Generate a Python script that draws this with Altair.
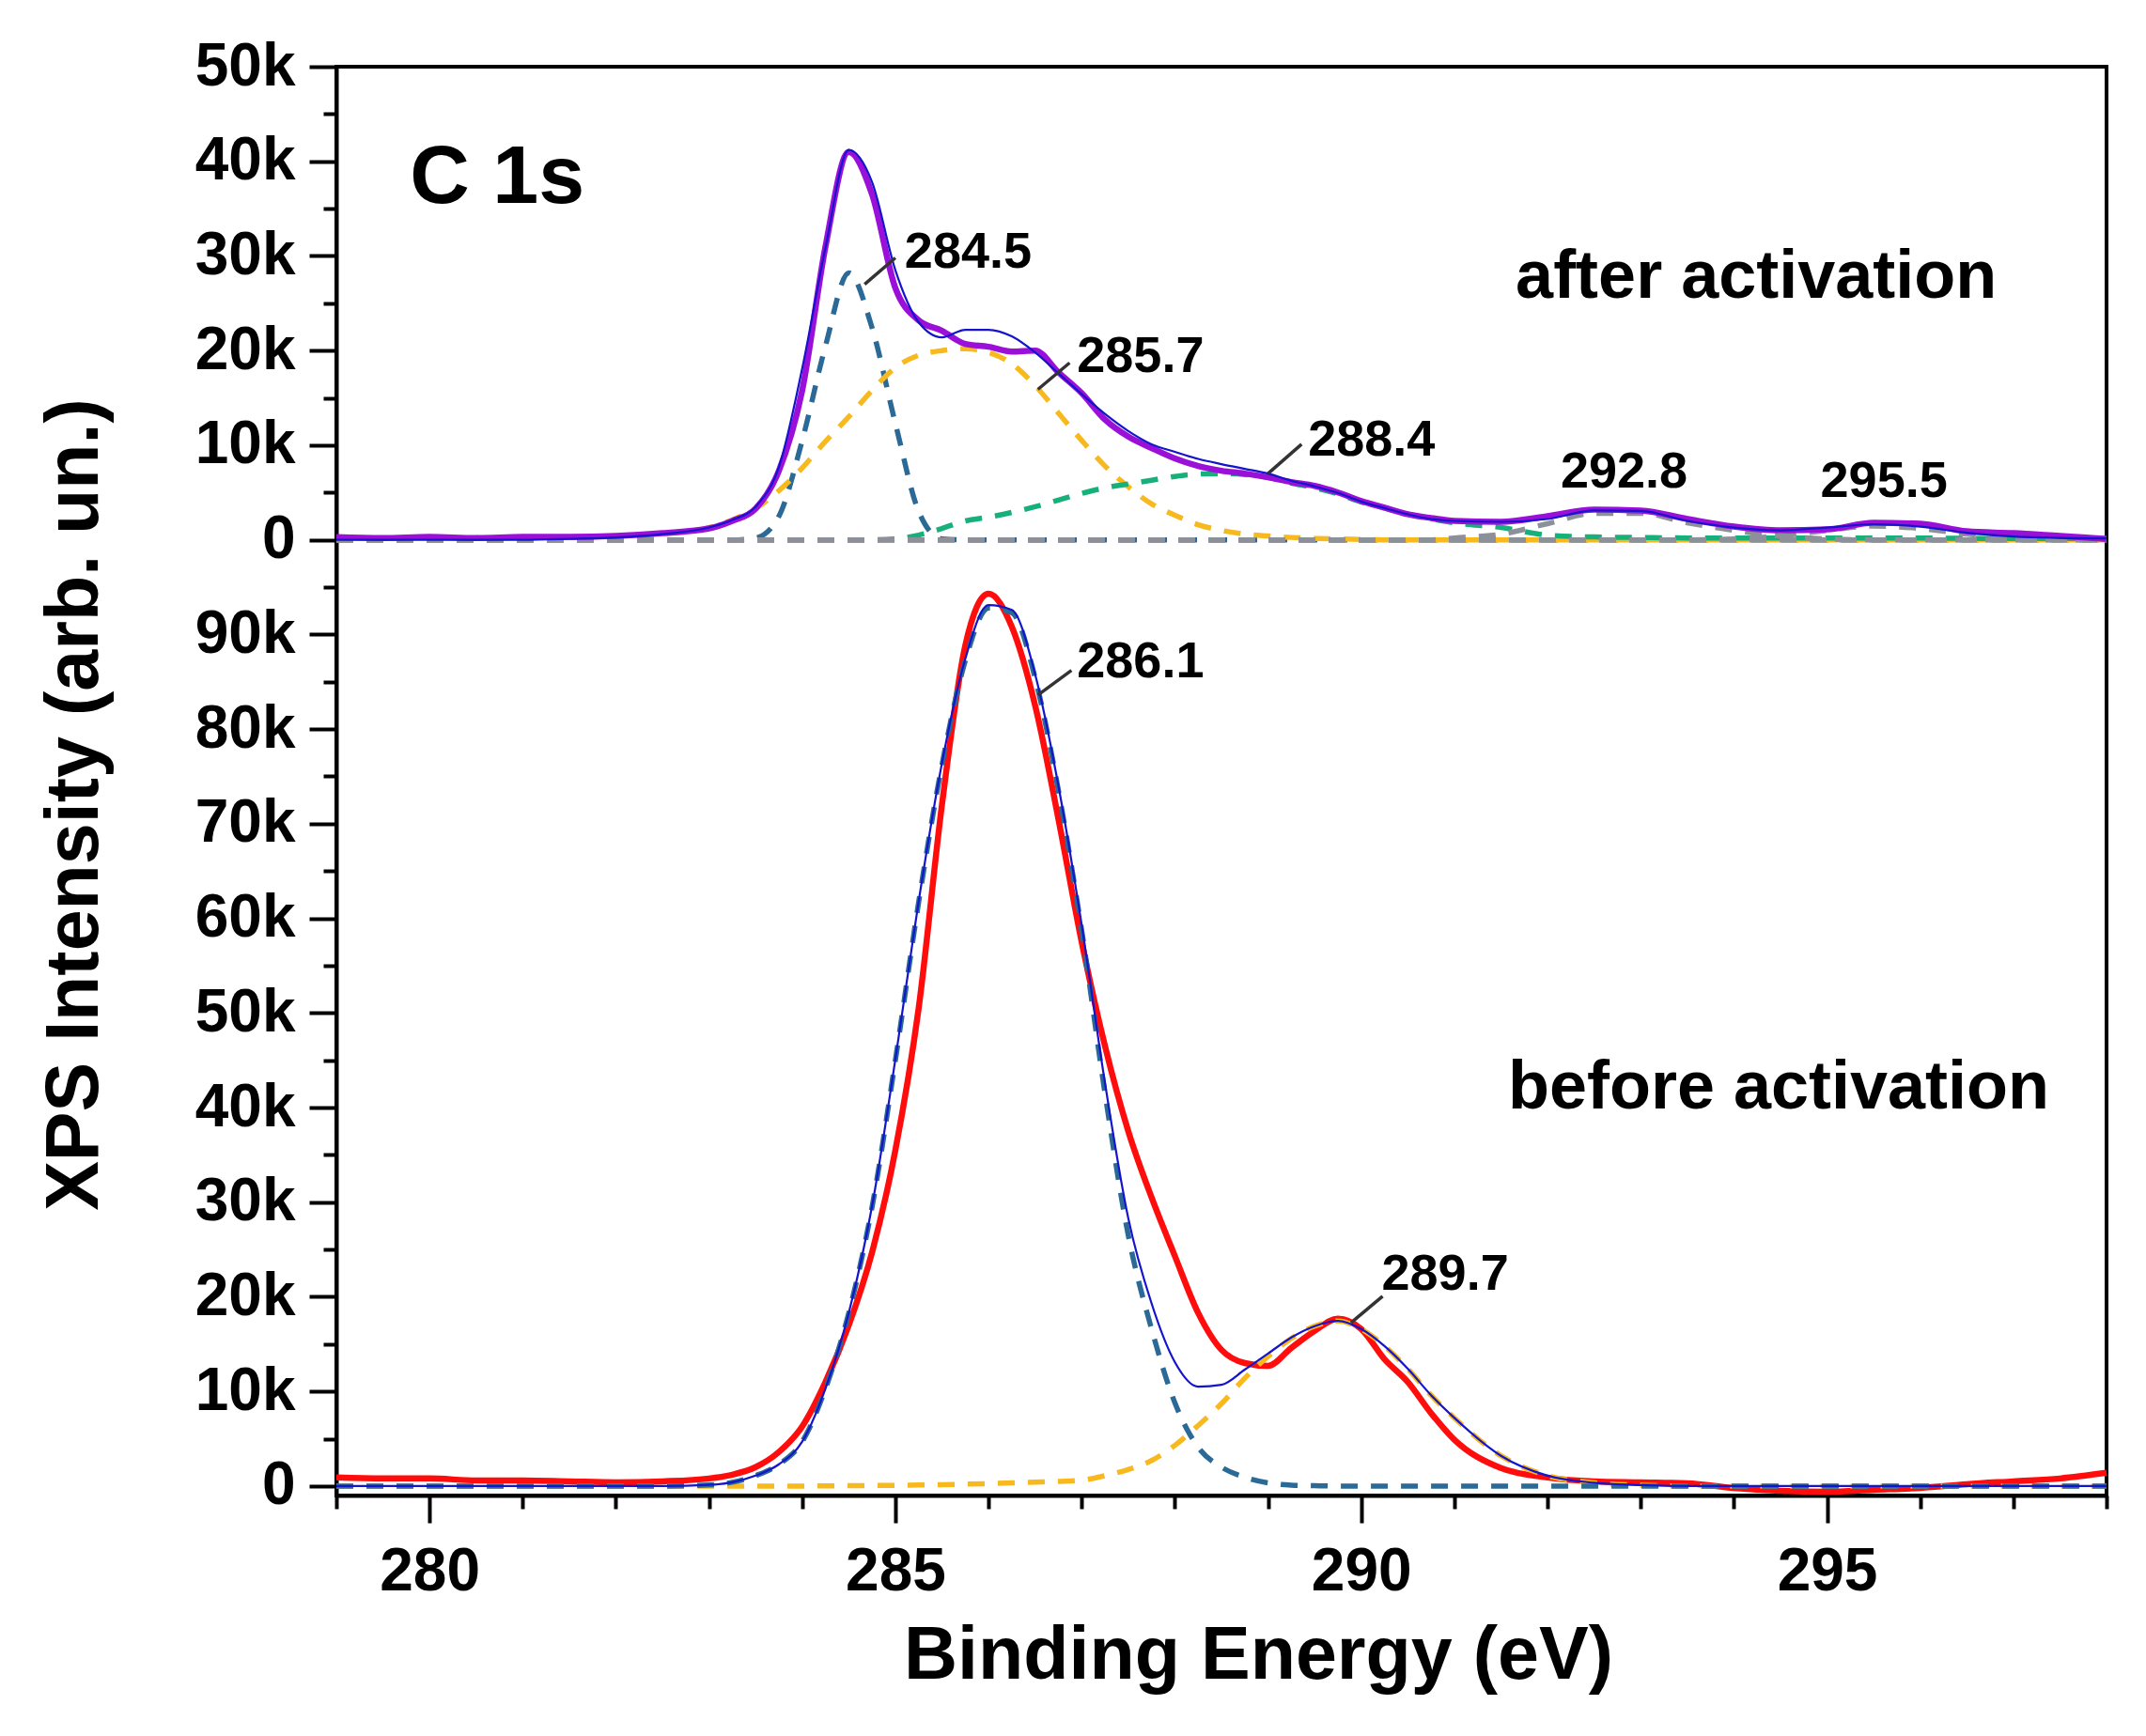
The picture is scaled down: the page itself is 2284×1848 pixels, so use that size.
import altair as alt
import pandas as pd

# ---------------- data (intensities in units of 1000 counts) ----------------
energy = [279.0, 279.5, 280.0, 280.5, 281.0, 281.5, 282.0, 282.5,
          283.0, 283.25, 283.5, 283.75, 284.0, 284.25, 284.5, 284.75,
          285.0, 285.25, 285.5, 285.75, 286.0, 286.25, 286.5, 286.75,
          287.0, 287.25, 287.5, 287.75, 288.0, 288.25, 288.5, 288.75,
          289.0, 289.25, 289.5, 289.75, 290.0, 290.25, 290.5, 290.75, 291.0,
          291.5, 292.0, 292.5, 293.0, 293.5, 294.0, 294.5, 295.0, 295.5,
          296.0, 296.5, 297.0, 297.5, 298.0]

# before activation (lower panel)
before_data = [0.9, 0.8, 0.8, 0.6, 0.6, 0.5, 0.4, 0.5,
               0.8, 1.2, 2.0, 3.6, 6.3, 11.0, 17.0, 24.7,
               35.5, 50.5, 72.0, 88.8, 94.3, 90.8, 82.5, 70.5,
               57.5, 46.5, 37.5, 30.5, 24.3, 18.3, 14.4, 13.0,
               12.7, 14.6, 16.4, 17.7, 16.6, 13.4, 11.0, 7.7, 4.9,
               1.9, 0.9, 0.5, 0.4, 0.3, -0.2, -0.5, -0.6, -0.4,
               -0.2, 0.2, 0.5, 0.8, 1.4]
before_fit = [0.0, 0.0, 0.0, 0.0, 0.0, 0.0, 0.0, 0.0,
              0.12, 0.4, 1.1, 2.3, 4.7, 10.3, 18.3, 29.6,
              45.1, 61.8, 76.4, 87.4, 93.1, 92.6, 85.8, 74.0,
              59.3, 42.6, 28.3, 19.3, 13.1, 10.5, 10.7, 12.3,
              14.0, 15.7, 16.9, 17.45, 16.6, 14.8, 12.4, 9.6, 7.2,
              3.2, 1.1, 0.35, 0.1, 0.0, 0.0, 0.0, 0.0, 0.0,
              0.0, 0.0, 0.0, 0.0, 0.0]
before_peak_286 = [0.0, 0.0, 0.0, 0.0, 0.0, 0.0, 0.0, 0.0,
                   0.12, 0.4, 1.1, 2.3, 4.7, 10.3, 18.3, 29.5,
                   45.0, 61.7, 76.2, 87.2, 92.8, 92.3, 85.4, 73.5,
                   58.7, 41.5, 26.5, 16.6, 8.8, 4.1, 2.0, 0.93,
                   0.33, 0.1, 0.04, 0.0, 0.0, 0.0, 0.0, 0.0, 0.0,
                   0.0, 0.0, 0.0, 0.0, 0.0, 0.0, 0.0, 0.0, 0.0,
                   0.0, 0.0, 0.0, 0.0, 0.0]
before_peak_289 = [0.0, 0.0, 0.0, 0.0, 0.0, 0.0, 0.0, 0.0,
                   0.0, 0.0, 0.0, 0.0, 0.0, 0.02, 0.04, 0.06,
                   0.08, 0.11, 0.15, 0.2, 0.26, 0.33, 0.42, 0.5,
                   0.62, 1.1, 1.75, 2.7, 4.3, 6.4, 8.7, 11.4,
                   13.7, 15.6, 16.9, 17.45, 16.6, 14.8, 12.4, 9.6, 7.2,
                   3.2, 1.1, 0.35, 0.1, 0.0, 0.0, 0.0, 0.0, 0.0,
                   0.0, 0.0, 0.0, 0.0, 0.0]

# after activation (upper panel)
after_data = [0.3, 0.2, 0.3, 0.2, 0.3, 0.3, 0.4, 0.7,
              1.2, 2.0, 3.3, 7.3, 15.8, 31.0, 41.0, 36.5,
              26.6, 23.2, 22.1, 20.7, 20.4, 19.9, 20.0, 17.7,
              15.5, 12.7, 10.9, 9.7, 8.6, 7.8, 7.3, 7.0,
              6.6, 6.1, 5.7, 5.0, 4.1, 3.4, 2.7, 2.3, 2.0,
              1.9, 2.5, 3.2, 3.1, 2.2, 1.4, 1.0, 1.1, 1.8,
              1.7, 0.9, 0.7, 0.4, 0.1]
after_fit = [0.0, 0.0, 0.0, 0.0, 0.0, 0.1, 0.25, 0.6,
             1.3, 2.1, 3.5, 7.7, 18.1, 30.9, 41.2, 37.8,
             28.5, 23.0, 21.4, 22.2, 22.2, 21.5, 19.8, 17.6,
             15.4, 13.3, 11.5, 10.1, 9.3, 8.55, 8.0, 7.5,
             7.0, 6.25, 5.65, 4.95, 4.05, 3.35, 2.7, 2.2, 2.0,
             1.9, 2.2, 3.1, 3.05, 2.0, 1.3, 1.0, 1.3, 1.65,
             1.4, 0.75, 0.35, 0.2, 0.15]
after_peak_284 = [0.0, 0.0, 0.0, 0.0, 0.0, 0.0, 0.0, 0.0,
                  0.0, 0.0, 0.2, 2.5, 10.5, 20.5, 28.2, 22.4,
                  12.3, 3.0, 0.1, 0.0, 0.0, 0.0, 0.0, 0.0,
                  0.0, 0.0, 0.0, 0.0, 0.0, 0.0, 0.0, 0.0,
                  0.0, 0.0, 0.0, 0.0, 0.0, 0.0, 0.0, 0.0, 0.0,
                  0.0, 0.0, 0.0, 0.0, 0.0, 0.0, 0.0, 0.0, 0.0,
                  0.0, 0.0, 0.0, 0.0, 0.0]
after_peak_285 = [0.0, 0.0, 0.0, 0.0, 0.0, 0.1, 0.25, 0.6,
                  1.3, 2.1, 3.3, 5.2, 7.6, 10.4, 13.0, 15.8,
                  18.2, 19.5, 20.0, 20.2, 19.8, 18.6, 16.3, 13.4,
                  10.5, 7.8, 5.6, 3.8, 2.6, 1.6, 1.0, 0.6,
                  0.4, 0.25, 0.15, 0.1, 0.05, 0.0, 0.0, 0.0, 0.0,
                  0.0, 0.0, 0.0, 0.0, 0.0, 0.0, 0.0, 0.0, 0.0,
                  0.0, 0.0, 0.0, 0.0, 0.0]
after_peak_288 = [0.0, 0.0, 0.0, 0.0, 0.0, 0.0, 0.0, 0.0,
                  0.0, 0.0, 0.0, 0.0, 0.0, 0.0, 0.0, 0.0,
                  0.1, 0.5, 1.2, 2.0, 2.4, 2.9, 3.5, 4.2,
                  4.9, 5.5, 5.9, 6.3, 6.7, 6.95, 7.0, 6.9,
                  6.6, 6.0, 5.5, 4.85, 4.0, 3.35, 2.7, 2.2, 1.8,
                  1.3, 0.5, 0.3, 0.25, 0.2, 0.2, 0.2, 0.2, 0.2,
                  0.2, 0.15, 0.15, 0.15, 0.15]
after_peak_292 = [0.0, 0.0, 0.0, 0.0, 0.0, 0.0, 0.0, 0.0,
                  0.0, 0.0, 0.0, 0.0, 0.0, 0.0, 0.0, 0.0,
                  0.0, 0.0, 0.0, 0.0, 0.0, 0.0, 0.0, 0.0,
                  0.0, 0.0, 0.0, 0.0, 0.0, 0.0, 0.0, 0.0,
                  0.0, 0.0, 0.0, 0.0, 0.0, 0.0, 0.0, 0.0, 0.2,
                  0.6, 1.7, 2.8, 2.8, 1.8, 1.0, 0.4, 0.1, 0.0,
                  0.0, 0.0, 0.0, 0.0, 0.0]
after_peak_295 = [0.0, 0.0, 0.0, 0.0, 0.0, 0.0, 0.0, 0.0,
                  0.0, 0.0, 0.0, 0.0, 0.0, 0.0, 0.0, 0.0,
                  0.0, 0.0, 0.0, 0.0, 0.0, 0.0, 0.0, 0.0,
                  0.0, 0.0, 0.0, 0.0, 0.0, 0.0, 0.0, 0.0,
                  0.0, 0.0, 0.0, 0.0, 0.0, 0.0, 0.0, 0.0, 0.0,
                  0.0, 0.0, 0.0, 0.0, 0.0, 0.1, 0.4, 1.0, 1.45,
                  1.2, 0.6, 0.2, 0.05, 0.0]
baseline_energy = [279.0, 298.0]
baseline_value = [0.0, 0.0]

UPPER_OFFSET = 100.0  # the "after" panel sits 100k above the "before" panel

# axis ticks
x_major = [280, 285, 290, 295]
x_minor = [279, 281, 282, 283, 284, 286, 287, 288, 289, 291, 292, 293, 294, 296, 297, 298]
y_major = list(range(0, 151, 10))
y_minor = list(range(5, 150, 10))

# annotations (positions in plot coordinates, k units, upper panel includes offset)
peak_labels = ["284.5", "285.7", "288.4", "292.8", "295.5", "286.1", "289.7"]
peak_label_x = [285.10, 286.95, 289.43, 292.14, 294.93, 286.95, 290.22]
peak_label_y = [128.8, 117.7, 108.9, 105.5, 104.5, 85.5, 20.7]
leader_x1 = [284.67, 286.53, 289.00, 286.53, 289.89]
leader_x2 = [285.00, 286.87, 289.36, 286.89, 290.23]
leader_y1 = [127.0, 115.9, 107.0, 83.6, 17.25]
leader_y2 = [129.8, 118.7, 110.1, 86.2, 20.06]
panel_labels = ["after activation", "before activation"]
panel_label_x = [294.24, 294.48]
panel_label_y = [125.6, 39.9]
title_label = ["C 1s"]
title_label_x = [279.79]
title_label_y = [135.6]

FONT = "Liberation Sans, Arial, Helvetica, sans-serif"

xs = alt.Scale(domain=[279, 298], nice=False, zero=False)
ys = alt.Scale(domain=[-1, 150], nice=False, zero=False)


def series(values, offset=0.0):
    return pd.DataFrame({"E": energy, "I": [v + offset for v in values]})


def enc_x(axis=None):
    return alt.X("E:Q", scale=xs, axis=axis)


def enc_y(axis=None):
    return alt.Y("I:Q", scale=ys, axis=axis)


def line(df, color, width, dash=None):
    kw = dict(color=color, strokeWidth=width, interpolate="monotone")
    if dash is not None:
        kw["strokeDash"] = dash
    return alt.Chart(df).mark_line(**kw).encode(x=enc_x(), y=enc_y())


RED = "#ff0d0d"
PURPLE = "#9b10d8"
FITBLUE = "#1414cc"
TEAL = "#2b6a96"
YELLOW = "#f7b91d"
GREEN = "#17b07a"
GRAY = "#8c9099"
DASH = [18, 14]
DW = 5.5

x_axis_major = alt.Axis(values=x_major, tickSize=29, labelPadding=20, orient="bottom",
                        title="Binding Energy (eV)", titleX=981, titleY=194,
                        titleAlign="center", titleBaseline="alphabetic",
                        labelFlush=False, labelOverlap=False)
y_axis_major = alt.Axis(values=y_major, tickSize=29, labelPadding=15, orient="left",
                        labelExpr="datum.value == 0 || datum.value == 100 ? '0' : "
                                  "(datum.value > 100 ? (datum.value - 100) + 'k' : datum.value + 'k')",
                        title="XPS Intensity (arb. un.)", titleX=-255, titleY=785,
                        titleAngle=270, titleAlign="center", titleBaseline="alphabetic",
                        labelFlush=False, labelOverlap=False)
x_axis_minor = alt.Axis(values=x_minor, tickSize=14, labels=False, domain=False,
                        title=None, orient="bottom")
y_axis_minor = alt.Axis(values=y_minor, tickSize=14, labels=False, domain=False,
                        title=None, orient="left")

# axis carrier layers
major_layer = alt.Chart(series(before_data)).mark_line(
    color=RED, strokeWidth=6.5, interpolate="monotone").encode(
    x=enc_x(x_axis_major), y=enc_y(y_axis_major))
base_df = pd.DataFrame({"E": baseline_energy, "I": [v + UPPER_OFFSET for v in baseline_value]})
minor_layer = alt.Chart(base_df).mark_line(color=GRAY, strokeWidth=DW, strokeDash=DASH).encode(
    x=enc_x(x_axis_minor), y=enc_y(y_axis_minor))

lower_layers = [
    line(series(before_peak_289), YELLOW, DW, DASH),
    line(series(before_peak_286), TEAL, DW, DASH),
    line(series(before_fit), FITBLUE, 2.2),
]
upper_layers = [
    line(series(after_peak_284, UPPER_OFFSET), TEAL, DW, DASH),
    line(series(after_peak_285, UPPER_OFFSET), YELLOW, DW, DASH),
    line(series(after_peak_288, UPPER_OFFSET), GREEN, DW, DASH),
    line(series(after_peak_292, UPPER_OFFSET), GRAY, DW, DASH),
    line(series(after_peak_295, UPPER_OFFSET), GRAY, DW, DASH),
]
upper_top = [
    line(series(after_data, UPPER_OFFSET), PURPLE, 6.5),
    line(series(after_fit, UPPER_OFFSET), FITBLUE, 2.2),
]

leader_df = pd.DataFrame({"E": leader_x1, "I": leader_y1, "E2": leader_x2, "I2": leader_y2})
leaders = alt.Chart(leader_df).mark_rule(color="#333333", strokeWidth=3.5).encode(
    x=enc_x(), y=enc_y(), x2="E2:Q", y2="I2:Q")

peak_df = pd.DataFrame({"E": peak_label_x, "I": peak_label_y, "t": peak_labels})
peak_text = alt.Chart(peak_df).mark_text(
    font=FONT, fontWeight="bold", fontSize=54, color="black",
    align="left", baseline="alphabetic").encode(x=enc_x(), y=enc_y(), text="t:N")

panel_df = pd.DataFrame({"E": panel_label_x, "I": panel_label_y, "t": panel_labels})
panel_text = alt.Chart(panel_df).mark_text(
    font=FONT, fontWeight="bold", fontSize=72, color="black",
    align="center", baseline="alphabetic").encode(x=enc_x(), y=enc_y(), text="t:N")

title_df = pd.DataFrame({"E": title_label_x, "I": title_label_y, "t": title_label})
title_text = alt.Chart(title_df).mark_text(
    font=FONT, fontWeight="bold", fontSize=88, color="black",
    align="left", baseline="alphabetic").encode(x=enc_x(), y=enc_y(), text="t:N")

chart = alt.layer(
    major_layer,
    *lower_layers,
    *upper_layers,
    minor_layer,
    *upper_top,
    leaders,
    peak_text,
    panel_text,
    title_text,
).resolve_axis(x="independent", y="independent").properties(
    width=1884, height=1521,
    autosize=alt.AutoSizeParams(type="none"),
    padding={"left": 350, "top": 63, "right": 34, "bottom": 240},
    background="white",
).configure_view(
    stroke="black", strokeWidth=4
).configure_axis(
    labelFont=FONT, labelFontWeight="bold", labelFontSize=64, labelColor="black",
    titleFont=FONT, titleFontWeight="bold", titleFontSize=79, titleColor="black",
    tickColor="black", tickWidth=4, domainColor="black", domainWidth=4, grid=False,
)

chart.save("out.html", embed_options={"renderer": "svg", "actions": False})
